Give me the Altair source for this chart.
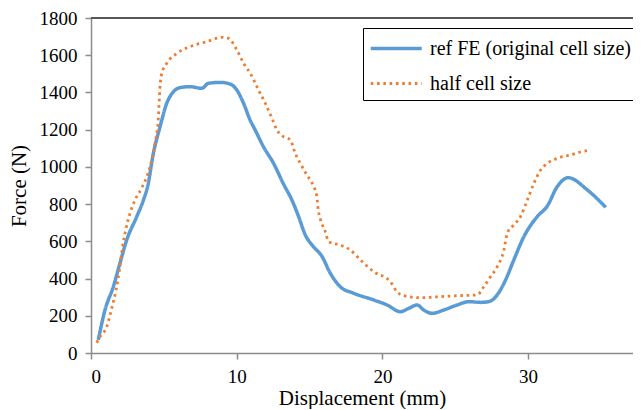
import altair as alt
import pandas as pd

# ---- data ----
series_names = ["ref FE (original cell size)", "half cell size"]

blue_x = [0.5, 0.96, 1.53, 1.99, 2.45, 3.14, 3.6, 3.9, 4.28, 4.74, 5.2, 5.66, 6.12, 6.8, 7.6, 8.06,
          8.87, 9.55, 10.01, 10.47, 10.93, 11.27, 11.84, 12.53, 13.2, 13.79, 14.25, 14.71, 15.17,
          15.86, 16.43, 17.11, 18.03, 19.4, 20.32, 21.24, 21.81, 22.38, 22.84, 23.41, 24.21, 25.13,
          25.93, 26.74, 27.31, 27.88, 28.45, 29.02, 29.71, 30.63, 31.32, 32.0, 32.75, 34.07, 35.33]
blue_y = [70, 231, 356, 483, 607, 733, 822, 900, 1073, 1216, 1342, 1404, 1426, 1431, 1422, 1449,
          1454, 1445, 1413, 1342, 1250, 1198, 1108, 1019, 910, 822, 733, 634, 580,
          518, 428, 356, 321, 285, 258, 222, 240, 258, 231, 213, 231, 258,
          276, 272, 276, 312, 392, 500, 625, 733, 790, 894, 942, 876, 783]

orange_x = [0.39, 0.62, 1.08, 1.42, 1.72, 1.95, 2.15, 2.38, 2.68, 3.02, 3.5, 4.05, 4.4, 4.63, 4.72,
            4.86, 5.2, 5.89, 6.8, 7.95, 8.98, 9.44, 10.01, 10.47, 10.93, 11.5, 11.96, 12.42, 12.76,
            13.1, 13.68, 14.02, 14.36, 14.82, 15.25, 15.5, 15.6, 15.74, 16.08, 16.31, 17.11, 17.8,
            18.49, 19.4, 20.55, 21.0, 21.46, 22.61, 23.99, 25.13, 26.51, 26.96, 27.42, 27.88,
            28.34, 28.57, 28.91, 29.48, 29.95, 30.4, 30.86, 31.32, 32.0, 32.92, 33.6, 34.3]
orange_y = [55, 88, 141, 240, 339, 446, 563, 661, 751, 822, 890, 1001, 1127, 1270, 1413,
            1503, 1557, 1610, 1646, 1673, 1696, 1691, 1628, 1557, 1503, 1413, 1342, 1261, 1198,
            1168, 1145, 1073, 1019, 956, 900, 840, 768, 720, 652, 598, 580, 553,
            500, 437, 383, 329, 308, 297, 303, 308, 312, 356, 410, 464,
            553, 643, 679, 733, 822, 912, 983, 1019, 1046, 1064, 1080, 1090]

x_ticks = [0, 10, 20, 30]
y_ticks = [0, 200, 400, 600, 800, 1000, 1200, 1400, 1600, 1800]

rows = []
for i, (x, y) in enumerate(zip(blue_x, blue_y)):
    rows.append({"series": series_names[0], "x": x, "y": y, "i": i})
for i, (x, y) in enumerate(zip(orange_x, orange_y)):
    rows.append({"series": series_names[1], "x": x, "y": y, "i": i})
df = pd.DataFrame(rows)

FONT = "Liberation Serif, Times New Roman, Tinos, serif"
W, H = 542, 335

lines = alt.Chart(df).mark_line(interpolate="monotone").encode(
    x=alt.X("x:Q", title="Displacement (mm)",
            scale=alt.Scale(domain=[0, 37.2], nice=False, zero=False),
            axis=alt.Axis(values=x_ticks, grid=False, tickSize=6, labelPadding=8,
                          titlePadding=1, format="d")),
    y=alt.Y("y:Q", title="Force (N)",
            scale=alt.Scale(domain=[0, 1800], nice=False),
            axis=alt.Axis(values=y_ticks, grid=False, tickSize=6, labelPadding=8,
                          titlePadding=10, format="d")),
    color=alt.Color("series:N", sort=series_names,
                    scale=alt.Scale(domain=series_names, range=["#5B9BD5", "#ED7D31"]),
                    legend=alt.Legend(title=None, orient="none", legendX=272, legendY=10,
                                      symbolType="M-1,0H3", symbolSize=650,
                                      symbolStrokeWidth=3, labelFont=FONT, labelFontSize=20,
                                      labelColor="black", labelOffset=32, rowPadding=10,
                                      padding=6, strokeColor="black", fillColor="white",
                                      cornerRadius=0, labelLimit=400)),
    strokeDash=alt.StrokeDash("series:N", sort=series_names,
                              scale=alt.Scale(domain=series_names, range=[[1, 0], [2.6, 3.7]]),
                              legend=alt.Legend(title=None)),
    strokeWidth=alt.StrokeWidth("series:N", sort=series_names,
                                scale=alt.Scale(domain=series_names, range=[3.5, 2.8]),
                                legend=None),
    order=alt.Order("i:Q"),
)

top_border = alt.Chart(df).mark_rule(color="#595959", strokeWidth=1.5).encode(
    x=alt.value(0), x2=alt.value("width"), y=alt.value(0)
)

chart = alt.layer(lines, top_border).properties(
    width=W, height=H,
    autosize=alt.AutoSizeParams(type="none"),
    padding={"left": 83, "top": 10, "right": 0, "bottom": 56},
).configure_view(stroke=None).configure_axis(
    domainColor="#8c8c8c", tickColor="#8c8c8c", domainWidth=1.5, tickWidth=1.5,
    labelFont=FONT, labelFontSize=19, labelColor="black",
    titleFont=FONT, titleFontSize=21, titleFontWeight="normal", titleColor="black",
)

chart.save("out.html", embed_options={"renderer": "svg", "actions": False})
